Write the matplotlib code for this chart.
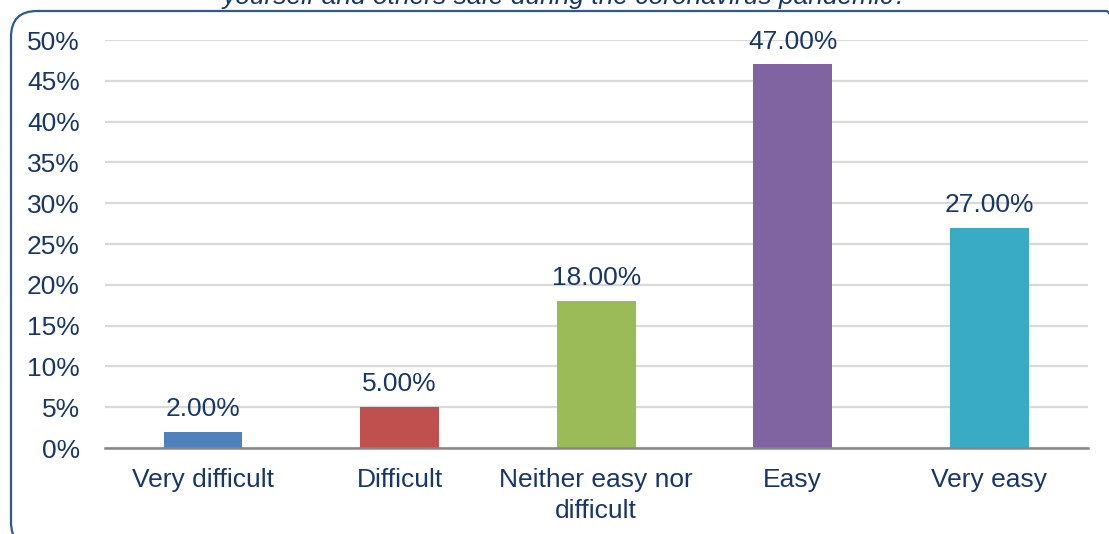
import matplotlib
matplotlib.use("Agg")
import matplotlib.pyplot as plt
from matplotlib.patches import FancyBboxPatch
from matplotlib.ticker import FuncFormatter, MultipleLocator

categories = ["Very difficult", "Difficult", "Neither easy nor\ndifficult", "Easy", "Very easy"]
values = [2.0, 5.0, 18.0, 47.0, 27.0]
colors = ["#4F81BD", "#C0504D", "#9BBB59", "#8064A2", "#3AABC4"]
title = "yourself and others safe during the coronavirus pandemic?"

text_color = "#17366B"
fs = 19.0
plt.rcParams["font.family"] = ["Liberation Sans", "DejaVu Sans"]

W, H = 1109, 534
fig = plt.figure(figsize=(W / 100, H / 100), dpi=100)

# rounded frame around the chart, running past the right and bottom edges
fx0, fy_top, fx1, fy_bot = 11, 11, 1132, 548
frame = FancyBboxPatch((fx0, H - fy_bot), fx1 - fx0, fy_bot - fy_top,
                       boxstyle="round,pad=0,rounding_size=26",
                       transform=None, facecolor="none",
                       edgecolor="#2E5A8E", linewidth=1.6)
fig.patches.append(frame)

fig.text(565 / W, 1 - 4 / H, title, ha="center", va="baseline", style="italic",
         fontsize=fs, color=text_color)

left, right = 104.7, 1087.7
bottom, top = 448, 40
ax = fig.add_axes([left / W, 1 - bottom / H, (right - left) / W, (bottom - top) / H])

x = range(len(categories))
ax.bar(x, values, width=0.40, color=colors, zorder=3)
for xi, v in zip(x, values):
    ax.annotate(f"{v:.2f}%", (xi, v), xytext=(0, 11.5), textcoords="offset points",
                ha="center", va="baseline", fontsize=fs, color=text_color)

ax.set_xlim(-0.5, len(categories) - 0.5)
ax.set_ylim(0, 50)
ax.yaxis.set_major_locator(MultipleLocator(5))
ax.yaxis.set_major_formatter(FuncFormatter(lambda v, p: f"{v:.0f}%"))
ax.grid(axis="y", color="#D9D9D9", linewidth=1.6, zorder=0)
ax.set_axisbelow(True)
for s in ["top", "right", "left"]:
    ax.spines[s].set_visible(False)
ax.spines["bottom"].set_color("#868686")
ax.spines["bottom"].set_linewidth(1.8)
ax.spines["bottom"].set_zorder(4)
ax.set_xticks(list(x))
ax.set_xticklabels(categories, fontsize=fs, color=text_color, linespacing=1.35)
ax.tick_params(axis="x", length=0, pad=14.5)
ax.tick_params(axis="y", length=0, pad=18, labelsize=fs, labelcolor=text_color)
ax.patch.set_alpha(0)

fig.savefig("out.png", dpi=100)
